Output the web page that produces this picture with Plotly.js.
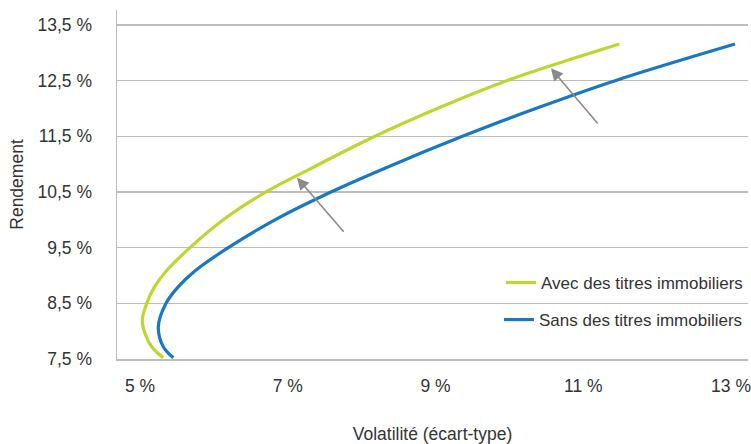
<!DOCTYPE html>
<html>
<head>
<meta charset="utf-8">
<script src="https://cdn.plot.ly/plotly-3.0.1.min.js"></script>
<style>
html,body{margin:0;padding:0;background:#fff;overflow:hidden;}
#chart{width:751px;height:444px;}
</style>
</head>
<body>
<div id="chart"></div>
<script>
// Data (volatility %, return %)
var avecVol = [5.315, 5.158, 5.068, 5.031, 5.091, 5.194, 5.361, 5.677, 6.128, 6.706, 7.278, 8.181, 9.038, 9.964, 11.488];
var avecRet = [7.523, 7.720, 7.959, 8.196, 8.500, 8.791, 9.089, 9.500, 10.000, 10.500, 10.898, 11.500, 12.008, 12.500, 13.158];
var sansVol = [5.451, 5.315, 5.248, 5.352, 5.514, 5.751, 6.195, 6.827, 7.585, 8.316, 9.365, 10.374, 11.430, 13.054];
var sansRet = [7.523, 7.720, 8.077, 8.500, 8.791, 9.089, 9.500, 10.000, 10.500, 10.928, 11.500, 12.008, 12.500, 13.158];
var seriesNames = ["Avec des titres immobiliers", "Sans des titres immobiliers"];

var xTickVals = [5, 7, 9, 11, 13];
var xTickText = ["5 %", "7 %", "9 %", "11 %", "13 %"];
var yTickVals = [7.5, 8.5, 9.5, 10.5, 11.5, 12.5, 13.5];
var yTickText = ["7,5 %", "8,5 %", "9,5 %", "10,5 %", "11,5 %", "12,5 %", "13,5 %"];

// Arrow annotations: heads and tails (volatility %, return %)
var arrowHeads = [[7.125, 10.757], [10.563, 12.721]];
var arrowTails = [[7.775, 9.757], [11.213, 11.702]];

var FONT = "Liberation Sans, Arial, sans-serif";
var GREEN = "#bed62f";
var BLUE = "#1a78c2";
var GRID = "#bdbdbd";

var traces = [
  {x: avecVol, y: avecRet, name: seriesNames[0], mode: "lines", type: "scatter",
   line: {color: GREEN, width: 3.2, shape: "spline", smoothing: 1}, legend: "legend"},
  {x: sansVol, y: sansRet, name: seriesNames[1], mode: "lines", type: "scatter",
   line: {color: BLUE, width: 3.2, shape: "spline", smoothing: 1}, legend: "legend2"}
];

var annotations = arrowHeads.map(function(h, i){
  return {x: h[0], y: h[1], ax: arrowTails[i][0], ay: arrowTails[i][1],
    xref: "x", yref: "y", axref: "x", ayref: "y", text: "", showarrow: true,
    arrowhead: 2, arrowsize: 1.5, arrowwidth: 1.6, arrowcolor: "#8a8a8a", standoff: 0};
});

var layout = {
  width: 751, height: 444,
  margin: {l: 117, r: 3, t: 10, b: 85},
  paper_bgcolor: "#fff", plot_bgcolor: "#fff",
  font: {family: FONT, size: 17.5, color: "#333"},
  xaxis: {range: [4.6887, 13.230], tickvals: xTickVals, ticktext: xTickText, automargin: false,
    showgrid: false, zeroline: false, showline: true, linecolor: GRID, linewidth: 1.5,
    ticks: "", ticklabelstandoff: 10,
    title: {text: "Volatilité (écart-type)", standoff: 33, font: {size: 17.5}}},
  yaxis: {range: [7.5, 13.769], tickvals: yTickVals, ticktext: yTickText, automargin: false,
    showgrid: true, gridcolor: GRID, gridwidth: 1.5, zeroline: false,
    showline: true, linecolor: GRID, linewidth: 1.5, ticks: "", ticklabelstandoff: 20,
    title: {text: "Rendement", standoff: 9, font: {size: 17.5}}},
  showlegend: true,
  legend: {x: 1, y: 0.2178, xanchor: "right", yanchor: "middle", bgcolor: "rgba(0,0,0,0)", font: {size: 17}},
  legend2: {x: 1, y: 0.1117, xanchor: "right", yanchor: "middle", bgcolor: "rgba(0,0,0,0)", font: {size: 17}},
  annotations: annotations
};

Plotly.newPlot("chart", traces, layout, {displayModeBar: false, staticPlot: true});
</script>
</body>
</html>
